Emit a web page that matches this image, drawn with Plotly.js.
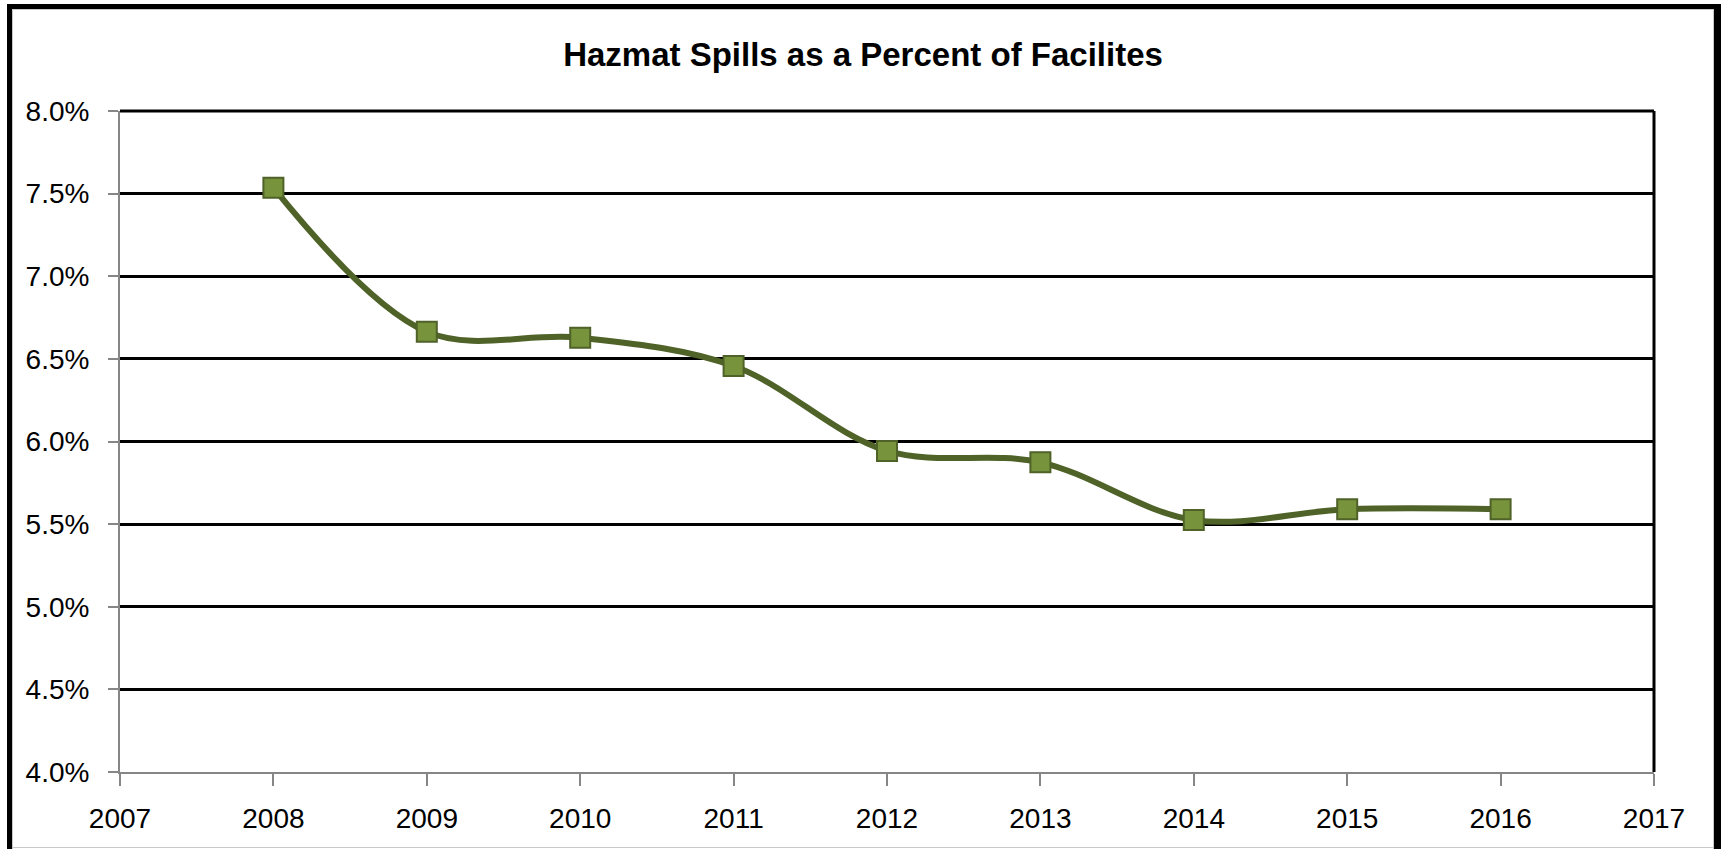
<!DOCTYPE html>
<html>
<head>
<meta charset="utf-8">
<script src="https://cdn.plot.ly/plotly-3.0.1.min.js"></script>
<style>
  html, body { margin: 0; padding: 0; background: #fff; }
  #wrap { position: relative; width: 1721px; height: 849px; overflow: hidden; }
  #chart { position: absolute; left: 0; top: 0; width: 1721px; height: 849px; }
  .fr { position: absolute; }
</style>
</head>
<body>
<div id="wrap">
  <div id="chart"></div>
  <div class="fr" style="left:7px;top:4px;width:1714px;height:5px;background:#000;"></div>
  <div class="fr" style="left:7px;top:4px;width:5px;height:845px;background:#000;"></div>
  <div class="fr" style="left:1714px;top:4px;width:7px;height:845px;background:#000;"></div>
  <div class="fr" style="left:12px;top:9px;width:1702px;height:1px;background:#c8c8c8;"></div>
  <div class="fr" style="left:12px;top:9px;width:1px;height:840px;background:#c8c8c8;"></div>
  <div class="fr" style="left:1713px;top:9px;width:1px;height:840px;background:#c8c8c8;"></div>
  <div class="fr" style="left:12px;top:847px;width:1702px;height:1px;background:#c8c8c8;"></div>
</div>
<script>
const years = [2008, 2009, 2010, 2011, 2012, 2013, 2014, 2015, 2016];
const spillPct = [0.07536, 0.06664, 0.06628, 0.06457, 0.05943, 0.05874, 0.05525, 0.05590, 0.05590];
const chartTitle = 'Hazmat Spills as a Percent of Facilites';
const yTicks = [0.040, 0.045, 0.050, 0.055, 0.060, 0.065, 0.070, 0.075, 0.080];
const xTicks = [2007, 2008, 2009, 2010, 2011, 2012, 2013, 2014, 2015, 2016, 2017];

const trace = {
  x: years,
  y: spillPct,
  type: 'scatter',
  mode: 'lines+markers',
  line: { color: '#4f6228', width: 6, shape: 'spline', smoothing: 1 },
  marker: { symbol: 'square', size: 20, color: '#77933c', line: { color: '#4f6228', width: 2 } },
  hoverinfo: 'x+y'
};

const tickFont = { family: 'Liberation Sans, Arial, sans-serif', size: 28, color: '#000' };

const layout = {
  width: 1721,
  height: 849,
  margin: { l: 120, r: 67, t: 111, b: 77 },
  paper_bgcolor: '#fff',
  plot_bgcolor: '#fff',
  showlegend: false,
  title: {
    text: chartTitle,
    font: { family: 'Liberation Sans, Arial, sans-serif', size: 33, color: '#000', weight: 'bold' },
    x: 863 / 1721, xanchor: 'center', xref: 'container',
    y: 1 - 54 / 849, yanchor: 'middle', yref: 'container'
  },
  xaxis: {
    type: 'linear',
    range: [2007, 2017],
    tickvals: xTicks,
    ticktext: xTicks.map(String),
    showgrid: false,
    zeroline: false,
    showline: true,
    linecolor: '#868686',
    linewidth: 2,
    ticks: 'outside',
    ticklen: 12,
    tickwidth: 2,
    tickcolor: '#868686',
    tickfont: tickFont,
    ticklabelstandoff: 8
  },
  yaxis: {
    range: [0.040, 0.080],
    tickvals: yTicks,
    tickformat: '.1%',
    showgrid: true,
    gridcolor: '#000',
    gridwidth: 3,
    zeroline: false,
    showline: true,
    linecolor: '#868686',
    linewidth: 2,
    ticks: 'outside',
    ticklen: 10,
    tickwidth: 2,
    tickcolor: '#868686',
    tickfont: tickFont,
    ticklabelstandoff: 13
  },
  shapes: [
    { type: 'line', xref: 'paper', yref: 'paper', x0: 1, x1: 1, y0: 0, y1: 1,
      line: { color: '#000', width: 3 }, layer: 'below' },
    { type: 'line', xref: 'paper', yref: 'paper', x0: 0, x1: 1, y0: 1, y1: 1,
      line: { color: '#000', width: 3 }, layer: 'below' }
  ]
};

Plotly.newPlot('chart', [trace], layout, { displayModeBar: false, staticPlot: true });
</script>
</body>
</html>
